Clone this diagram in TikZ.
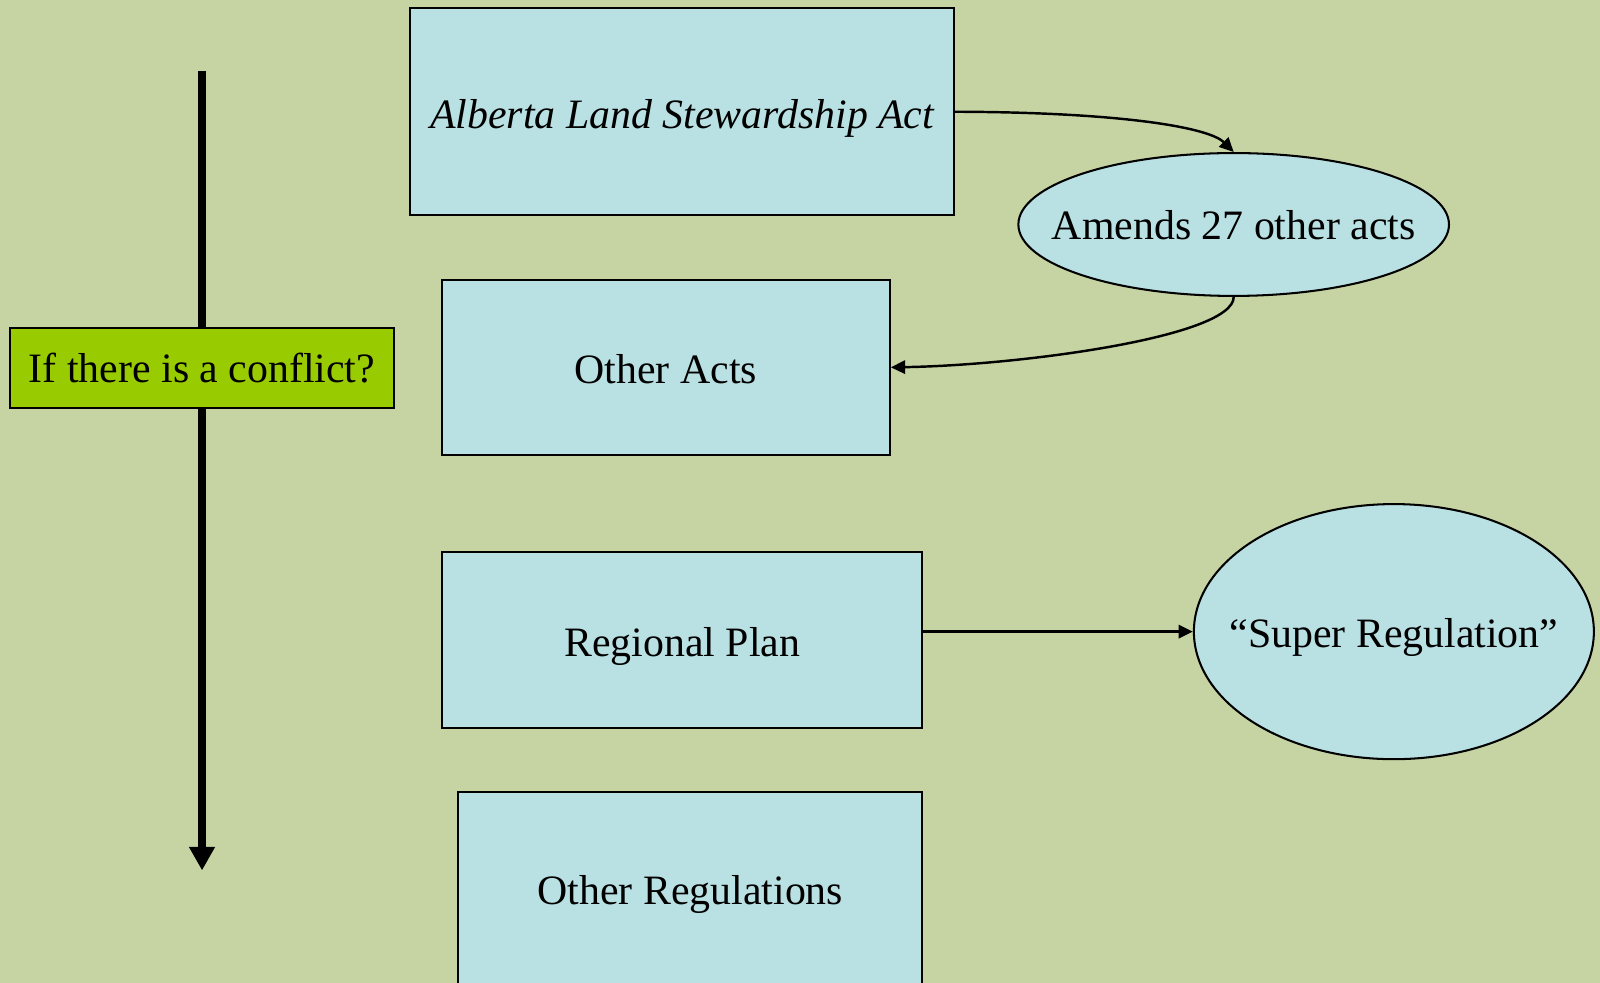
\documentclass[tikz,border=0pt]{standalone}
\usepackage{fontspec}
\setmainfont{Liberation Serif}
\usetikzlibrary{arrows.meta,shapes.geometric}
\definecolor{bgc}{RGB}{198,212,163}
\definecolor{boxc}{RGB}{185,224,226}
\definecolor{greenc}{RGB}{153,204,0}
\begin{document}
\begin{tikzpicture}[x=0.5pt,y=-0.5pt,
  every node/.style={font=\fontsize{20.5}{24}\selectfont, inner sep=0pt},
  bluebox/.style={draw=black, line width=1pt, fill=boxc, rectangle},
  blueoval/.style={draw=black, line width=1pt, fill=boxc, ellipse},
  txt/.style={label={[yshift=-3.5pt]center:#1}},
  conn/.style={draw=black, line width=1.2pt, -{Triangle[width=6.5pt,length=7pt]}},
  bigarrow/.style={draw=black, line width=4pt, -{Triangle[width=12pt,length=11.5pt]}}]
\fill[bgc] (0,0) rectangle (1568,963.3);
\useasboundingbox (0,0) rectangle (1568,963.3);
% thick arrow
\coordinate (atop) at (198,70);
\coordinate (abot) at (198,853);
\draw[bigarrow] (atop) -- (abot);
\node[bluebox, minimum width=266.5pt, minimum height=101.5pt, txt={\itshape Alberta Land Stewardship Act}] (als) at (668.5,109.5) {};
\node[bluebox, minimum width=219.5pt, minimum height=86pt, label={[yshift=-1pt]center:Other Acts}] (oa) at (652.5,360) {};
\node[bluebox, minimum width=235.5pt, minimum height=86pt, txt={Regional Plan}] (rp) at (668.5,627) {};
\node[bluebox, minimum width=227.5pt, minimum height=96pt, label={[yshift=-2.5pt]center:Other Regulations}] (or) at (676.5,872) {};
\node[draw=black, line width=1pt, fill=greenc, minimum width=188pt, minimum height=39.5pt] (cf) at (198,360.5) {If there is a conflict?};
\node[blueoval, minimum width=211pt, minimum height=70pt, label={[yshift=-0.5pt]center:Amends 27 other acts}] (am) at (1209,220) {};
\node[blueoval, minimum width=196pt, minimum height=125pt, label={[yshift=-3pt]center:``Super Regulation''}] (sr) at (1366,619) {};
\draw[conn] (als.east) .. controls (1100,110) and (1185,125) .. (am.north);
\draw[conn] (am.south) .. controls (1209,330) and (1000,358) .. (oa.east);
\draw[conn] (sr.west -| rp.east) -- (sr.west);
\end{tikzpicture}
\end{document}
